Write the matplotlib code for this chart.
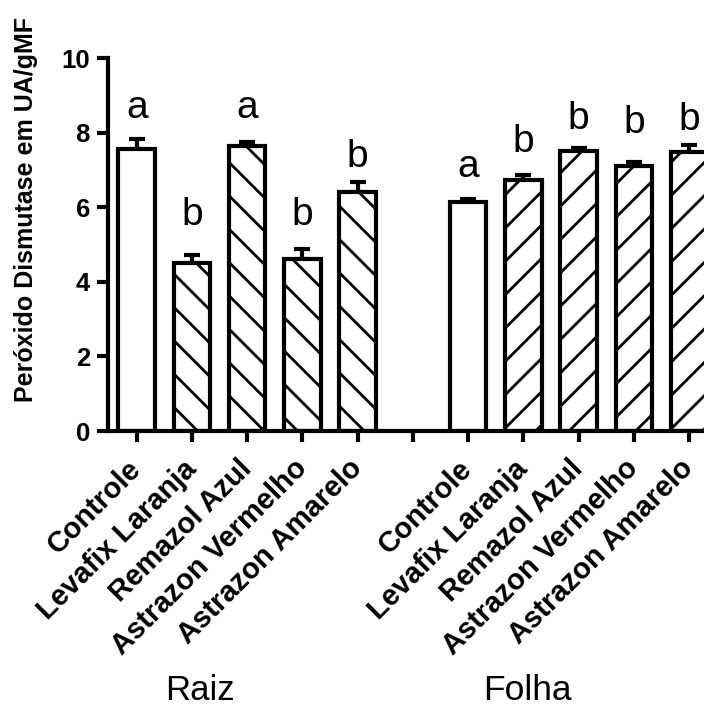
import matplotlib
matplotlib.use('Agg')
import matplotlib.pyplot as plt
from matplotlib.transforms import blended_transform_factory

# tratamentos (mesma ordem nos dois tecidos)
tratamentos = ["Controle", "Levafix Laranja", "Remazol Azul",
               "Astrazon Vermelho", "Astrazon Amarelo"]
grupos = ["Raiz", "Folha"]

# média e erro padrão (UA/gMF)
raiz_media = [7.57, 4.50, 7.63, 4.62, 6.40]
raiz_erro = [0.27, 0.22, 0.12, 0.27, 0.27]
folha_media = [6.15, 6.72, 7.50, 7.10, 7.48]
folha_erro = [0.07, 0.15, 0.10, 0.10, 0.18]

# letras do teste de médias e a altura onde ficam
raiz_letras = ["a", "b", "a", "b", "b"]
raiz_letras_y = [8.39, 5.52, 8.39, 5.52, 7.08]
folha_letras = ["a", "b", "b", "b", "b"]
folha_letras_y = [6.82, 7.49, 8.11, 7.98, 8.07]


def main():
    plt.rcParams['font.family'] = ['Liberation Sans', 'DejaVu Sans']
    plt.rcParams['hatch.linewidth'] = 2.0

    fig = plt.figure(figsize=(7.04, 7.11), dpi=100)
    ax = fig.add_axes([0.1534, 0.3938, 0.8466, 0.5246])

    lw = 3.0
    largura = 0.66
    pos_raiz = list(range(0, 5))
    pos_folha = list(range(6, 11))

    for pos, media, erro, hatch in [(pos_raiz, raiz_media, raiz_erro, '\\'),
                                    (pos_folha, folha_media, folha_erro, '/')]:
        hatches = [''] + [hatch] * 4
        ax.errorbar(pos, media, yerr=[[0] * len(erro), erro], fmt='none',
                    ecolor='black', elinewidth=lw, capsize=6, capthick=lw,
                    zorder=1)
        bars = ax.bar(pos, media, width=largura, color='white',
                      edgecolor='black', linewidth=lw, zorder=2)
        for b, h in zip(bars, hatches):
            b.set_hatch(h)

    for pos, letras, ys in [(pos_raiz, raiz_letras, raiz_letras_y),
                            (pos_folha, folha_letras, folha_letras_y)]:
        for x, l, y in zip(pos, letras, ys):
            ax.text(x, y, l, ha='center', va='baseline', fontsize=28)

    ax.set_ylim(0, 10)
    ax.set_xlim(-0.52, 10.27)
    ax.set_yticks([0, 2, 4, 6, 8, 10])
    ax.set_xticks(list(range(11)))
    ax.set_xticklabels(tratamentos + [''] + tratamentos, rotation=45,
                       ha='right', va='center', rotation_mode='anchor',
                       fontsize=21, fontweight='bold')
    for t in ax.get_yticklabels():
        t.set_fontsize(18.5)
        t.set_fontweight('bold')

    ax.tick_params(axis='both', direction='out', length=8, width=lw, pad=5)
    ax.tick_params(axis='x', pad=16)
    for s in ['top', 'right']:
        ax.spines[s].set_visible(False)
    for s in ['left', 'bottom']:
        ax.spines[s].set_linewidth(lw)

    ax.set_ylabel("Peróxido Dismutase em UA/gMF", fontsize=18,
                  fontweight='bold')
    ax.yaxis.set_label_coords(-0.117, 0.595)

    # nomes dos tecidos embaixo de cada grupo
    trans = blended_transform_factory(ax.transData, fig.transFigure)
    ax.text(1.14, 0.015, grupos[0], ha='center', va='baseline', fontsize=25,
            transform=trans)
    ax.text(7.07, 0.015, grupos[1], ha='center', va='baseline', fontsize=25.5,
            transform=trans)

    fig.savefig("out.png", dpi=100)


if __name__ == "__main__":
    main()
